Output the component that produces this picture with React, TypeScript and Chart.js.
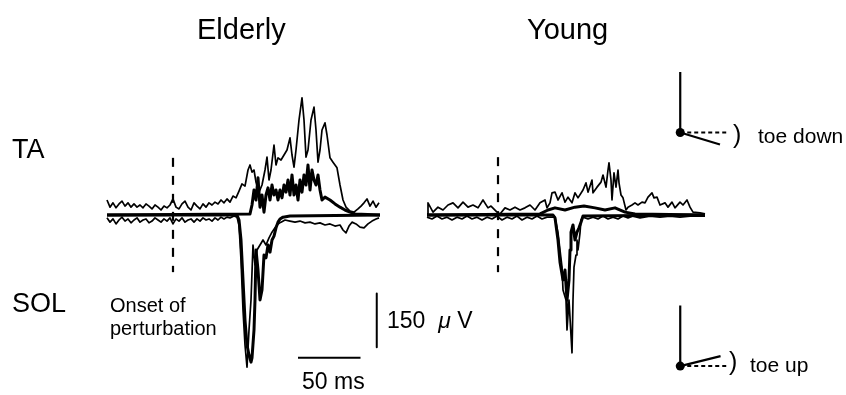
import React, { useEffect, useRef } from "react";
import { Chart, registerables } from "chart.js";
Chart.register(...registerables);

type Pt = [number, number]; // [time ms from onset, amplitude µV]

// ---------------- DATA ----------------
const elderlyTaThin: Pt[] = [
  [-52.8, 42], [-50.4, 22], [-48, 34], [-45.6, 20], [-43.2, 31], [-40.8, 39], [-38.4, 25], [-36, 34],
  [-33.6, 22], [-31.2, 31], [-28.8, 22], [-26.4, 28], [-24, 20], [-21.6, 31], [-19.2, 25], [-16.8, 17],
  [-14.4, 28], [-12, 22], [-9.6, 14], [-7.2, 25], [-4.8, 20], [-2.4, 28], [0, 45], [2.4, 22], [4.8, 17],
  [7.2, 31], [9.6, 39], [12, 22], [14.4, 14], [16.8, 34], [19.2, 25], [21.6, 17], [24, 31], [26.4, 22],
  [28.8, 34], [31.2, 28], [33.6, 36], [36, 31], [38.4, 42], [40.8, 34], [43.2, 45], [45.6, 36], [48, 53],
  [50.4, 48], [52.8, 67], [55.2, 87], [57.6, 81], [60, 126], [61.6, 140], [63.2, 120], [64.8, 126],
  [66.4, 92], [68.8, 64], [71.2, 84], [73.6, 126], [75.2, 162], [76.8, 98], [78.4, 126], [80.8, 196],
  [82.4, 140], [84, 160], [86.4, 154], [88.8, 168], [91.2, 182], [93.6, 216], [95.2, 168], [96.8, 134],
  [98.4, 182], [100.8, 266], [103.2, 328], [104.8, 266], [106.4, 162], [108, 182], [110.4, 266],
  [112.8, 302], [114.4, 238], [116, 148], [117.6, 182], [119.2, 238], [121.6, 258], [123.2, 224],
  [125.6, 160], [128, 148], [131.2, 132], [133.6, 84], [136, 42], [138.4, 22], [141.6, 11], [144.8, 8],
  [148, 17], [150.4, 25], [152.8, 34], [155.2, 45], [157.6, 25], [160, 39], [162.4, 22], [164.8, 34],
];

const elderlyTaThick: Pt[] = [
  [-52.8, 0], [61.6, 3], [63.2, 28], [64.8, 70], [66.4, 42], [68, 104], [69.6, 22], [71.2, 56], [72.8, 8],
  [74.4, 56], [76, 76], [77.6, 42], [79.2, 84], [80.8, 56], [82.4, 70], [84, 42], [85.6, 70], [87.2, 48],
  [88.8, 84], [90.4, 64], [92, 98], [93.6, 56], [95.2, 112], [96.8, 56], [98.4, 84], [100, 42], [101.6, 98],
  [103.2, 64], [104.8, 112], [106.4, 84], [108, 140], [109.6, 70], [111.2, 126], [112.8, 98], [114.4, 84],
  [116, 112], [117.6, 70], [119.2, 42], [121.6, 50], [125.6, 42], [129.6, 31], [133.6, 22], [137.6, 14],
  [141.6, 8], [145.6, 3], [165.6, 0],
];

const elderlySolThin: Pt[] = [
  [-52.8, -8], [-50.4, -20], [-48, -11], [-45.6, -25], [-43.2, -14], [-40.8, -6], [-38.4, -17], [-36, -11],
  [-33.6, -22], [-31.2, -14], [-28.8, -8], [-26.4, -20], [-24, -14], [-21.6, -11], [-19.2, -22], [-16.8, -17],
  [-14.4, -8], [-12, -14], [-9.6, -20], [-7.2, -11], [-4.8, -17], [-2.4, -8], [0, -25], [2.4, -11], [4.8, -17],
  [7.2, -8], [9.6, -20], [12, -14], [14.4, -11], [16.8, -20], [19.2, -11], [21.6, -17], [24, -8], [26.4, -14],
  [28.8, -11], [31.2, -17], [33.6, -8], [36, -14], [38.4, -6], [40.8, -11], [43.2, -6], [45.6, -8], [48.8, -3],
  [51.2, -6], [52.8, -28], [54.4, -126], [56, -266], [57.6, -364], [59.2, -426], [60.8, -322], [62.4, -238],
  [64, -84], [65.6, -140], [67.2, -98], [69.6, -84], [72, -70], [74.4, -84], [76.8, -64], [79.2, -48],
  [81.6, -36], [84, -25], [86.4, -20], [89.6, -14], [93.6, -17], [97.6, -20], [101.6, -17], [105.6, -22],
  [109.6, -20], [113.6, -25], [117.6, -22], [121.6, -28], [125.6, -25], [129.6, -31], [133.6, -28], [136, -42],
  [138.4, -50], [140.8, -31], [143.2, -20], [146.4, -25], [149.6, -34], [152.8, -36], [156, -25], [159.2, -17],
  [162.4, -11], [164.8, -8],
];

const elderlySolThick: Pt[] = [
  [-52.8, 0], [51.2, 0], [52.8, -14], [54.4, -70], [56, -182], [57.6, -294], [59.2, -364], [60.8, -392],
  [62.4, -412], [63.2, -400], [64.8, -322], [65.6, -238], [66.4, -98], [68, -154], [69.6, -238], [71.2, -210],
  [72.8, -112], [74.4, -120], [76, -84], [77.6, -104], [79.2, -70], [80.8, -59], [82.4, -36], [84, -20],
  [85.6, -11], [88, -6], [93.6, -3], [165.6, 0],
];

const youngTaThin: Pt[] = [
  [-56.8, 3], [-56, 34], [-52, 8], [-48, 22], [-44, 14], [-40, 28], [-36, 34], [-32, 20], [-28, 36], [-24, 22],
  [-20, 28], [-16, 20], [-12, 42], [-8, 20], [-5.6, 25], [-0.8, 8], [1.6, 3], [5.6, 20], [9.6, 14], [13.6, 22],
  [17.6, 14], [21.6, 20], [25.6, 28], [29.6, 14], [33.6, 34], [37.6, 42], [39.2, 20], [41.6, 34], [43.2, 62],
  [45.6, 64], [48, 42], [51.2, 62], [53.6, 36], [56, 50], [59.2, 34], [61.6, 62], [64, 48], [68, 70],
  [70.4, 90], [72, 64], [75.2, 98], [76, 62], [79.2, 78], [82.4, 92], [84, 112], [86.4, 78], [88, 126],
  [88.8, 146], [90.4, 98], [91.2, 42], [92.8, 118], [94.4, 78], [96, 126], [96.8, 90], [98.4, 56], [100, 48],
  [102.4, 14], [104, 22], [107.2, 28], [109.6, 34], [112, 28], [115.2, 36], [117.6, 34], [120, 50],
  [123.2, 62], [124.8, 48], [127.2, 50], [129.6, 28], [133.6, 34], [136, 22], [139.2, 36], [141.6, 20],
  [145.6, 36], [148, 28], [151.2, 42], [153.6, 22], [156, 8], [161.6, 6], [165.6, 3],
];

const youngTaThick: Pt[] = [
  [-56.8, 0], [33.6, 3], [40, 14], [45.6, 20], [53.6, 14], [61.6, 22], [68.8, 25], [77.6, 20], [85.6, 14],
  [93.6, 20], [101.6, 8], [109.6, 3], [165.6, 0],
];

const youngSolThin: Pt[] = [
  [-56.8, -6], [-52.8, -11], [-48.8, -3], [-44.8, -11], [-40.8, -6], [-36.8, -14], [-32.8, -6], [-28.8, -11],
  [-24.8, -3], [-20.8, -11], [-16.8, -6], [-12.8, -14], [-8.8, -6], [-4.8, -11], [-0.8, -3], [3.2, -14],
  [7.2, -6], [11.2, -11], [15.2, -3], [19.2, -14], [23.2, -6], [27.2, -11], [31.2, -3], [35.2, -11],
  [39.2, -6], [43.2, -6], [45.6, -6], [48, -50], [49.6, -98], [51.2, -146], [52, -210], [54.4, -238],
  [55.2, -322], [56.8, -238], [59.2, -386], [60, -238], [60.8, -146], [62.4, -112], [63.2, -70], [64, -98],
  [65.6, -50], [66.4, -14], [68, -6], [72, -11], [76, -6], [80, -11], [84, -3], [88, -11], [92, -6],
  [96, -11], [100, -3], [104, -8], [108, -3], [113.6, -8], [121.6, -3], [129.6, -6], [137.6, -3],
  [145.6, -6], [153.6, -3], [165.6, -3],
];

const youngSolThick: Pt[] = [
  [-56.8, 0], [44, 0], [45.6, -8], [48, -70], [49.6, -132], [52, -182], [53.6, -154], [55.2, -238],
  [56.8, -182], [57.6, -98], [58.4, -48], [60, -28], [61.6, -70], [63.2, -48], [64.8, -36], [66.4, -20],
  [68, -3], [165.6, 0],
];

const elderlyOnset: Pt[] = [[0, 160], [0, -160]];
const youngOnset: Pt[] = [[0, 162], [0, -160]];

// scale bars: 150 µV and 50 ms
const scaleBarUv: Pt[] = [[163, -220], [163, -370]];
const scaleBarMs: Pt[] = [[100, -400], [150, -400]];

// ankle schematic: angles (deg) of the foot
const TOE_DOWN_DEG = -17;
const TOE_UP_DEG = 14;

// ---------------- LAYOUT ----------------
const W = 846;
const H = 395;
const BASELINE_PX = 215;
const MS_PER_PX = 0.8;
const UV_PER_PX = 2.8;
const ELDERLY_ONSET_PX = 173;
const YOUNG_ONSET_PX = 498;
const THIN = 1.7;
const THICK = 3;
const FONT = "'Liberation Sans', Arial, Helvetica, sans-serif";

function ds(points: Pt[], width: number, dash: number[] = []) {
  return {
    data: points.map(([t, v]) => ({ x: t, y: v })),
    showLine: true,
    borderColor: "#000",
    backgroundColor: "#000",
    borderWidth: width,
    borderDash: dash,
    pointRadius: 0,
    pointHoverRadius: 0,
    tension: 0,
    fill: false,
    borderJoinStyle: "round" as const,
  };
}

function panelScales(onsetPx: number) {
  const xMin = -onsetPx * MS_PER_PX;
  const yMax = BASELINE_PX * UV_PER_PX;
  return {
    x: { type: "linear" as const, display: false, min: xMin, max: xMin + W * MS_PER_PX },
    y: { type: "linear" as const, display: false, min: yMax - H * UV_PER_PX, max: yMax },
  };
}

const baseOptions = {
  responsive: false,
  animation: false as const,
  devicePixelRatio: 1,
  events: [] as any[],
  layout: { padding: 0 },
  plugins: { legend: { display: false }, tooltip: { enabled: false }, title: { display: false } },
};

function elderlyConfig(): any {
  return {
    type: "scatter",
    data: {
      datasets: [
        ds(elderlyTaThick, THICK),
        ds(elderlySolThick, THICK),
        ds(elderlyTaThin, THIN),
        ds(elderlySolThin, THIN),
        ds(elderlyOnset, 2.2, [9, 9]),
        ds(scaleBarUv, 2),
        ds(scaleBarMs, 2),
      ],
    },
    options: { ...baseOptions, scales: panelScales(ELDERLY_ONSET_PX) },
  };
}

function youngConfig(): any {
  return {
    type: "scatter",
    data: {
      datasets: [
        ds(youngTaThick, THICK),
        ds(youngSolThick, THICK),
        ds(youngTaThin, THIN),
        ds(youngSolThin, THIN),
        ds(youngOnset, 2.2, [9, 9]),
      ],
    },
    options: { ...baseOptions, scales: panelScales(YOUNG_ONSET_PX) },
  };
}

// ankle icons in page-pixel units
const ICONS = [
  { px: 683, py: 131, deg: TOE_DOWN_DEG },
  { px: 683, py: 370, deg: TOE_UP_DEG },
];
const LEG_LEN = 62;
const FOOT_LEN = 42;
const DASH_LEN = 49;

function iconConfig(): any {
  const datasets: any[] = [];
  ICONS.forEach(({ px, py, deg }) => {
    const r = (deg * Math.PI) / 180;
    datasets.push(ds([[px, py], [px, py - LEG_LEN]], 2.2));
    datasets.push(ds([[px, py], [px + DASH_LEN, py]], 2, [4, 3]));
    datasets.push(ds([[px, py], [px + FOOT_LEN * Math.cos(r), py - FOOT_LEN * Math.sin(r)]], 2.2));
    datasets.push({
      data: [{ x: px, y: py }],
      showLine: false,
      pointRadius: 4.5,
      pointBackgroundColor: "#000",
      pointBorderColor: "#000",
      pointBorderWidth: 0,
    });
  });
  return {
    type: "scatter",
    data: { datasets },
    options: {
      ...baseOptions,
      scales: {
        x: { type: "linear", display: false, min: 0, max: W },
        y: { type: "linear", display: false, min: 0, max: H, reverse: true },
      },
    },
  };
}

function ChartCanvas({ make }: { make: () => any }) {
  const ref = useRef<HTMLCanvasElement>(null);
  useEffect(() => {
    const chart = new Chart(ref.current as HTMLCanvasElement, make());
    return () => chart.destroy();
  }, []);
  return (
    <canvas
      ref={ref}
      width={W}
      height={H}
      style={{ position: "absolute", left: 0, top: 0, width: W, height: H }}
    />
  );
}

function Label({ x, y, size, children, bold }: { x: number; y: number; size: number; children: any; bold?: boolean }) {
  return (
    <div
      style={{
        position: "absolute",
        left: x,
        top: y,
        fontFamily: FONT,
        fontSize: size,
        lineHeight: `${size}px`,
        color: "#000",
        whiteSpace: "nowrap",
        fontWeight: bold ? 700 : 400,
      }}
    >
      {children}
    </div>
  );
}

export default function App() {
  return (
    <div
      style={{
        position: "absolute",
        left: 0,
        top: 0,
        width: W,
        height: H,
        background: "#fff",
        overflow: "hidden",
      }}
    >
      <ChartCanvas make={elderlyConfig} />
      <ChartCanvas make={youngConfig} />
      <ChartCanvas make={iconConfig} />
      <Label x={197} y={15} size={29}>Elderly</Label>
      <Label x={527} y={15} size={29}>Young</Label>
      <Label x={12} y={136} size={27}>TA</Label>
      <Label x={12} y={290} size={27}>SOL</Label>
      <Label x={110} y={295} size={20}>Onset of</Label>
      <Label x={110} y={318} size={20}>perturbation</Label>
      <Label x={387} y={309} size={23}>
        150&nbsp;&nbsp;<i>μ</i>&nbsp;V
      </Label>
      <Label x={302} y={370} size={23}>50 ms</Label>
      <Label x={733} y={122} size={25}>)</Label>
      <Label x={758} y={125} size={21}>toe down</Label>
      <Label x={729} y={349} size={25}>)</Label>
      <Label x={750} y={354} size={21}>toe up</Label>
    </div>
  );
}
